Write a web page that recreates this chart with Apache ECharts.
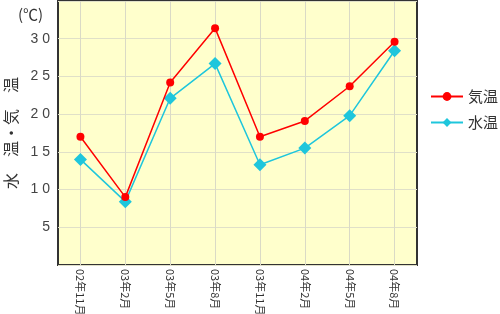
<!DOCTYPE html>
<html><head><meta charset="utf-8">
<script src="https://cdn.jsdelivr.net/npm/echarts@6/dist/echarts.min.js"></script>
<style>html,body{margin:0;padding:0;background:#fff}#c{width:500px;height:314px}</style>
</head><body><div id="c"></div>
<script>
const categories = ["02年11月","03年2月","03年5月","03年8月","03年11月","04年2月","04年5月","04年8月"];
const airTemp = [17.0, 9.0, 24.2, 31.4, 17.0, 19.1, 23.7, 29.6];
const waterTemp = [14.0, 8.4, 22.1, 26.7, 13.3, 15.5, 19.8, 28.4];
const yTicks = [5, 10, 15, 20, 25, 30];
const seriesNames = ["気温", "水温"];
const unitLabel = "(℃)";
const yName = "水　温・気　温";

const chart = echarts.init(document.getElementById('c'), null, {renderer:'canvas'});
const font = '"Noto Sans CJK JP", sans-serif';
chart.setOption({
  animation: false,
  title: { text: unitLabel, left: 13, top: 2, textStyle: { fontSize: 15, fontWeight: 'normal', color: '#333', fontFamily: font } },
  grid: { left: 58, right: 83, top: 1, bottom: 49, show: true, containLabel: false, outerBoundsMode: 'none',
    backgroundColor: '#ffffcc', borderColor: '#333', borderWidth: 2 },
  legend: {
    orient: 'vertical', left: 425, top: 84, itemWidth: 32, itemHeight: 11, itemGap: 11,
    textStyle: { fontSize: 15, color: '#333', fontFamily: font },
    data: seriesNames
  },
  xAxis: {
    type: 'category', data: categories, boundaryGap: true,
    axisLine: { show: false }, axisTick: { show: false },
    axisLabel: { rotate: -90, fontSize: 11, color: '#333', margin: 4, fontFamily: font },
    splitLine: { show: false }
  },
  yAxis: {
    type: 'value', min: 0, max: 35, interval: 5,
    name: yName, nameLocation: 'middle', nameGap: 39, nameRotate: 90,
    nameTextStyle: { fontSize: 16, color: '#333', fontFamily: font },
    axisLine: { show: false }, axisTick: { show: false },
    axisLabel: { fontSize: 14, color: '#444', margin: 8,
      formatter: v => yTicks.includes(v) ? String(v).split('').join(' ') : '' },
    splitLine: { show: true, lineStyle: { color: '#e0e0c8', width: 1 } }
  },
  series: [
    { name: seriesNames[0], type: 'line', data: airTemp, z: 3,
      symbol: 'circle', symbolSize: 8, itemStyle: { color: '#ff0000' },
      lineStyle: { color: '#ff0000', width: 1.5 },
      markLine: { silent: true, symbol: ['none','none'], label: { show: false },
        lineStyle: { color: '#dadac6', width: 1, type: 'solid' },
        data: categories.map(c => ({ xAxis: c })) , z: 1 } },
    { name: seriesNames[1], type: 'line', data: waterTemp, z: 2,
      symbol: 'diamond', symbolSize: 13, itemStyle: { color: '#1ec6dc' },
      lineStyle: { color: '#1ec6dc', width: 1.5 } }
  ]
});
</script></body></html>
